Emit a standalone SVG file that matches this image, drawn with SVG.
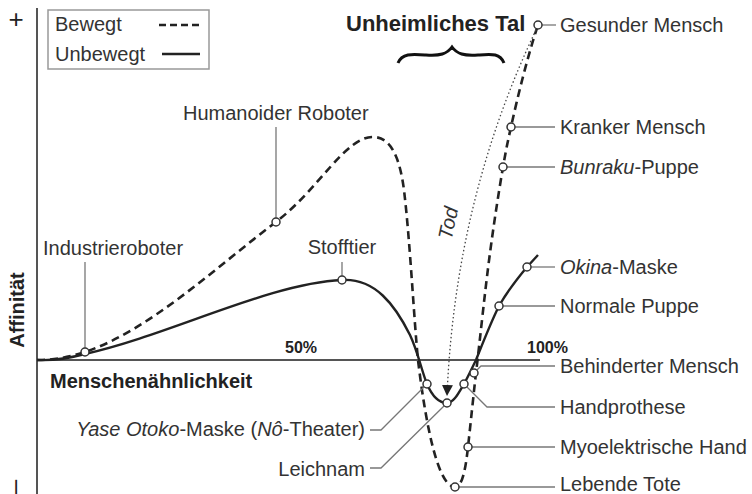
<svg xmlns="http://www.w3.org/2000/svg" width="752" height="494" viewBox="0 0 752 494">
<defs>
<style>
.t{font-family:"Liberation Sans",Arial,sans-serif;font-size:20px;fill:#333}
.b{font-family:"Liberation Sans",Arial,sans-serif;font-weight:bold;fill:#222}
.i{font-style:italic}
.ax{stroke:#555;stroke-width:2;fill:none}
.ld{stroke:#777;stroke-width:1.3;fill:none}
.dash{stroke:#222;stroke-width:2.6;fill:none;stroke-dasharray:8 5}
.solid{stroke:#222;stroke-width:2.4;fill:none}
.dot{stroke:#444;stroke-width:1.3;fill:none;stroke-dasharray:1.5 2.5}
.pt{fill:#fff;stroke:#333;stroke-width:1.5}
</style>
<marker id="ah" viewBox="0 0 10 10" refX="10" refY="5" markerWidth="11" markerHeight="11" markerUnits="userSpaceOnUse" orient="auto">
<path d="M0,0 L10,5 L0,10 Z" fill="#222"/>
</marker>
</defs>
<rect width="752" height="494" fill="#fff"/>

<g id="axes">
<line class="ax" x1="37" y1="8" x2="37" y2="494"/>
<line class="ax" x1="37" y1="360" x2="540" y2="360"/>
<text class="t" x="16" y="28" text-anchor="middle" font-size="26" style="font-size:26px;fill:#222">+</text>
<text class="t" transform="translate(15,487) rotate(-90)" text-anchor="middle" y="8" style="font-size:26px;fill:#222">–</text>
<text class="b" font-size="20" transform="translate(17,310) rotate(-90)" text-anchor="middle" y="7">Affinität</text>
<text class="b" font-size="20" x="50" y="388">Menschenähnlichkeit</text>
<text class="b" font-size="16" x="285" y="353">50%</text>
<text class="b" font-size="16" x="527" y="353">100%</text>
</g>

<g id="legend">
<rect x="48" y="10" width="161" height="59" fill="#fff" stroke="#999" stroke-width="1.5"/>
<text class="t" x="55" y="31">Bewegt</text>
<text class="t" x="55" y="61">Unbewegt</text>
<line x1="159" y1="25" x2="200" y2="25" stroke="#222" stroke-width="2.4" stroke-dasharray="7 4"/>
<line x1="162" y1="54" x2="200" y2="54" stroke="#222" stroke-width="2.4"/>
</g>

<g id="title">
<text class="b" font-size="22" x="346" y="31">Unheimliches Tal</text>
<path d="M398,63 C402,53 412,54 426,55 C440,56 447,54 452,47 C457,54 464,56 478,55 C492,54 500,53 504,63" fill="none" stroke="#111" stroke-width="3"/>
</g>

<g id="connectors">
<path class="dash" d="M37,360 C55,360 70,357 85,352 C150,330 215,268 276,222 C320,188 345,137 373,137 C392,137 400,160 404,190 C410,240 414,320 418,360 C424,410 436,487 455,487 C463,487 466,465 468,447 C471,420 474,390 476,373 C480,340 485,290 490,253 C495,215 500,185 503,167 C506,150 508,140 511,127 C518,95 528,55 538,25"/>
<path class="solid" d="M37,360 C55,361 70,358 85,354 C170,335 270,283 342,280 C375,278 395,305 410,335 C418,352 422,372 427,384 C433,398 440,403 447,403 C454,403 459,392 464,384 C469,375 472,368 476,360 C484,340 491,322 499,306 C508,290 517,279 527,267 L538,255"/>
<path class="dot" d="M536,30 Q455,200 447,396" marker-end="url(#ah)"/>
<path class="ld" d="M85,262 V348"/>
<path class="ld" d="M276,127 V218"/>
<path class="ld" d="M342,262 V276"/>
<path class="ld" d="M542,25 H556"/>
<path class="ld" d="M515,127 H555"/>
<path class="ld" d="M507,167 H555"/>
<path class="ld" d="M531,267 H555"/>
<path class="ld" d="M503,306 H555"/>
<path class="ld" d="M477,370 L481,366 H555"/>
<path class="ld" d="M467,387 L487,407 H555"/>
<path class="ld" d="M472,447 H555"/>
<path class="ld" d="M459,487 H555"/>
<path class="ld" d="M370,430 H381 L424,387"/>
<path class="ld" d="M370,468 H381 L444,406"/>
</g>

<g id="tod">
<text class="t i" transform="translate(448,223) rotate(-78)" text-anchor="middle" y="7">Tod</text>
</g>

<g id="industrieroboter"><circle class="pt" cx="85" cy="352" r="4"/><text class="t" x="43" y="255">Industrieroboter</text></g>
<g id="humanoider-roboter"><circle class="pt" cx="276" cy="222" r="4"/><text class="t" x="183" y="120">Humanoider Roboter</text></g>
<g id="stofftier"><circle class="pt" cx="342" cy="280" r="4"/><text class="t" x="342" y="254" text-anchor="middle">Stofftier</text></g>
<g id="gesunder-mensch"><circle class="pt" cx="538" cy="25" r="4"/><text class="t" x="560" y="32">Gesunder Mensch</text></g>
<g id="kranker-mensch"><circle class="pt" cx="511" cy="127" r="4"/><text class="t" x="560" y="134">Kranker Mensch</text></g>
<g id="bunraku-puppe"><circle class="pt" cx="503" cy="167" r="4"/><text class="t" x="560" y="174"><tspan class="i">Bunraku</tspan>-Puppe</text></g>
<g id="okina-maske"><circle class="pt" cx="527" cy="267" r="4"/><text class="t" x="560" y="274"><tspan class="i">Okina</tspan>-Maske</text></g>
<g id="normale-puppe"><circle class="pt" cx="499" cy="306" r="4"/><text class="t" x="560" y="313">Normale Puppe</text></g>
<g id="behinderter-mensch"><circle class="pt" cx="474" cy="373" r="4"/><text class="t" x="560" y="373">Behinderter Mensch</text></g>
<g id="handprothese"><circle class="pt" cx="464" cy="384" r="4"/><text class="t" x="560" y="414">Handprothese</text></g>
<g id="myoelektrische-hand"><circle class="pt" cx="468" cy="447" r="4"/><text class="t" x="560" y="454">Myoelektrische Hand</text></g>
<g id="lebende-tote"><circle class="pt" cx="455" cy="487" r="4"/><text class="t" x="560" y="491">Lebende Tote</text></g>
<g id="yase-otoko"><circle class="pt" cx="427" cy="384" r="4"/><text class="t" x="365" y="436" text-anchor="end"><tspan class="i">Yase Otoko</tspan>-Maske (<tspan class="i">Nô</tspan>-Theater)</text></g>
<g id="leichnam"><circle class="pt" cx="447" cy="403" r="4"/><text class="t" x="365" y="476" text-anchor="end">Leichnam</text></g>
</svg>
